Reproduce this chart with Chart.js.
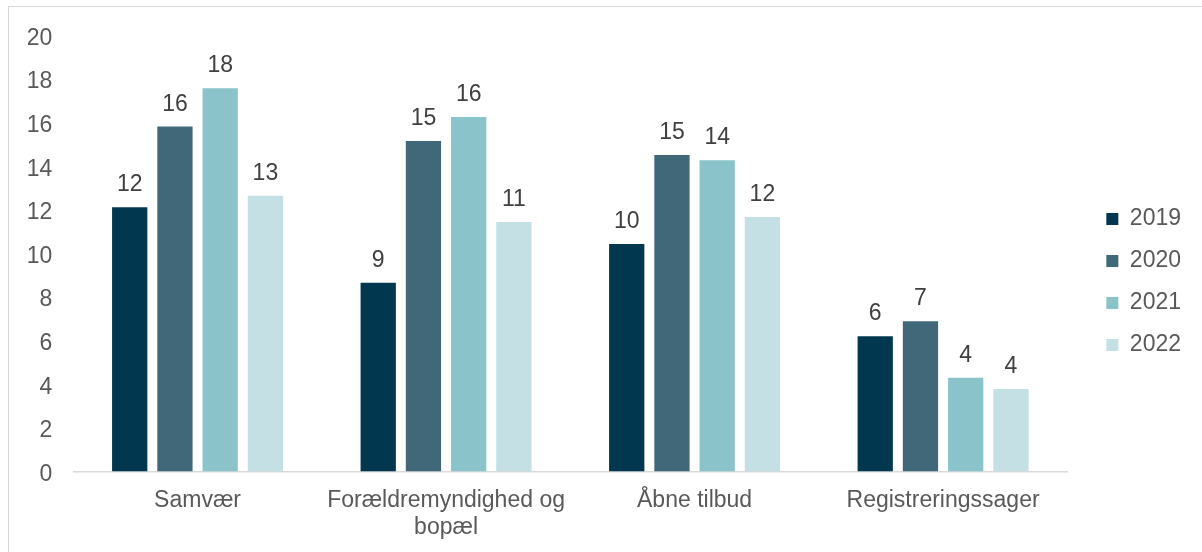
<!DOCTYPE html>
<html>
<head>
<meta charset="utf-8">
<script src="https://cdn.jsdelivr.net/npm/chart.js@4/dist/chart.umd.min.js"></script>
<style>
  html, body { margin: 0; padding: 0; background: #ffffff; }
  #wrap { position: absolute; left: 0; top: 0; width: 1202px; height: 552px; }
  #frame { position: absolute; left: 8px; top: 6px; width: 1300px; height: 700px;
           border-top: 1.5px solid #d9d9d9; border-left: 1.5px solid #d9d9d9; pointer-events: none; }
</style>
</head>
<body>
<div id="wrap"><canvas id="c" width="1202" height="552"></canvas></div>
<div id="frame"></div>
<script>
const categories = ['Samvær', ['Forældremyndighed og', 'bopæl'], 'Åbne tilbud', 'Registreringssager'];
const seriesNames = ['2019', '2020', '2021', '2022'];
const values2019 = [12.12, 8.66, 10.44, 6.2];
const values2020 = [15.82, 15.16, 14.52, 6.89];
const values2021 = [17.58, 16.26, 14.28, 4.3];
const values2022 = [12.65, 11.44, 11.67, 3.78];
const yTicks = [0, 2, 4, 6, 8, 10, 12, 14, 16, 18, 20];
const colors = ['#02384f', '#416879', '#8ac4ca', '#c4e0e4'];

const allValues = [values2019, values2020, values2021, values2022];
const FONT = 'Liberation Sans, Arial, sans-serif';

const dataLabels = {
  id: 'dataLabels',
  afterDatasetsDraw(chart) {
    const ctx = chart.ctx;
    ctx.save();
    ctx.font = '23px ' + FONT;
    ctx.fillStyle = '#404040';
    ctx.textAlign = 'center';
    ctx.textBaseline = 'alphabetic';
    chart.data.datasets.forEach((ds, i) => {
      const meta = chart.getDatasetMeta(i);
      meta.data.forEach((bar, j) => {
        ctx.fillText(String(Math.round(ds.data[j])), bar.x, bar.y - 16);
      });
    });
    ctx.restore();
  }
};

new Chart(document.getElementById('c'), {
  type: 'bar',
  data: {
    labels: categories,
    datasets: seriesNames.map((name, i) => ({
      label: name,
      data: allValues[i],
      backgroundColor: colors[i],
      borderWidth: 0,
      categoryPercentage: 0.728,
      barPercentage: 0.78
    }))
  },
  options: {
    responsive: false,
    animation: false,
    devicePixelRatio: 1,
    layout: { padding: { left: 0, right: 11, top: 22.5, bottom: 10.5 } },
    plugins: {
      legend: {
        position: 'right',
        align: 'center',
        labels: {
          boxWidth: 12,
          boxHeight: 12,
          padding: 19,
          color: '#595959',
          font: { family: FONT, size: 23 }
        }
      },
      tooltip: { enabled: false }
    },
    scales: {
      x: {
        grid: { display: false, drawTicks: false },
        border: { display: true, color: '#d9d9d9', width: 1.5 },
        ticks: { color: '#595959', font: { family: FONT, size: 23 }, padding: 15, maxRotation: 0, autoSkip: false },
        afterFit: s => { s.height = 70; }
      },
      topSpacer: {
        position: 'top',
        display: true,
        grid: { display: false, drawTicks: false },
        border: { display: false },
        ticks: { display: false },
        afterFit: s => { s.height = 13; }
      },
      y: {
        min: 0,
        max: 20,
        afterBuildTicks: s => { s.ticks = yTicks.map(v => ({ value: v })); },
        grid: { display: false, drawTicks: false },
        border: { display: false },
        ticks: { color: '#595959', font: { family: FONT, size: 23 }, padding: 21, labelOffset: 3 },
        afterFit: s => { s.width = 73.3; }
      },
      spacer: {
        position: 'right',
        display: true,
        grid: { display: false, drawTicks: false },
        border: { display: false },
        ticks: { display: false },
        afterFit: s => { s.width = 20; }
      }
    }
  },
  plugins: [dataLabels]
});
</script>
</body>
</html>
